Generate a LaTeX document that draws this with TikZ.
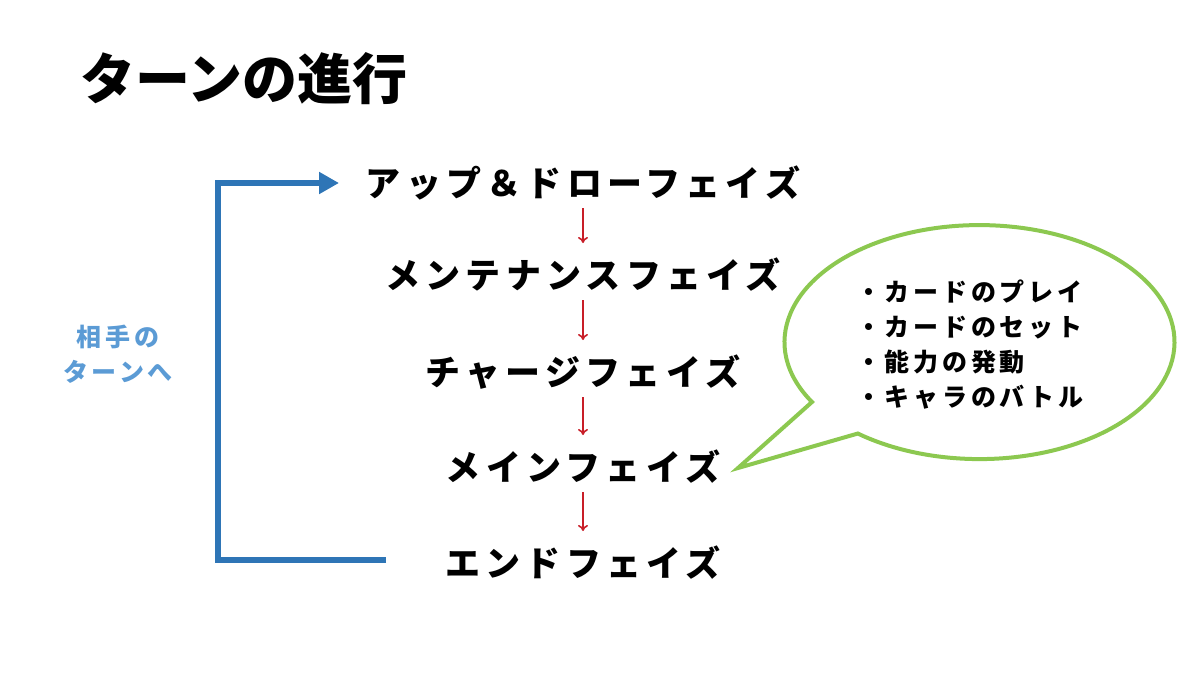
\documentclass[tikz,border=0pt]{standalone}
\usepackage{fontspec}
\usetikzlibrary{arrows.meta}
\newfontfamily\jp[LetterSpace=15]{Noto Sans CJK JP Black}
\newfontfamily\jptitle{Noto Sans CJK JP Black}
\definecolor{loopblue}{RGB}{46,117,182}
\definecolor{labelblue}{RGB}{91,155,213}
\definecolor{stepred}{RGB}{200,30,40}
\definecolor{bubblegreen}{RGB}{140,200,80}

\begin{document}
\begin{tikzpicture}[x=1pt,y=-1pt,
  phase/.style={inner sep=0pt,font=\jp\fontsize{35pt}{40pt}\selectfont},
  nextstep/.style={draw=stepred,line width=1.6pt,-{To[length=6pt,width=10pt]},
    shorten <=25pt,shorten >=32pt}]
\useasboundingbox (0,0) rectangle (1200,675);
\node[anchor=west,inner sep=0pt,font=\jptitle\fontsize{55pt}{60pt}\selectfont] (title) at (80,79) {ターンの進行};
\node[phase] (up) at (583,183) {アップ＆ドローフェイズ};
\node[phase] (maint) at (583,275) {メンテナンスフェイズ};
\node[phase] (charge) at (583,372) {チャージフェイズ};
\node[phase] (main) at (583,467) {メインフェイズ};
\node[phase] (end) at (583,563) {エンドフェイズ};
\draw[nextstep] (up.center) -- (maint.center);
\draw[nextstep] (maint.center) -- (charge.center);
\draw[nextstep] (charge.center) -- (main.center);
\draw[nextstep] (main.center) -- (end.center);
% back to the top
\coordinate (endleft) at (386,560);
\coordinate (upleft) at (339,183);
\draw[loopblue,line width=6pt,-{Triangle[length=20pt,width=21pt]}] (endleft) -| (218,183) -- (upleft);
\node[align=center,text=labelblue,inner sep=0pt,font=\jp\fontsize{25pt}{35pt}\selectfont] (other) at (118,354) {相手の\\ターンへ};
% speech bubble
\draw[bubblegreen,line width=4pt,fill=white,line join=miter] (812,402)
  arc[start angle=149.2,end angle=488.6,x radius=195,y radius=117] -- (738,468) -- cycle;
\node[anchor=west,align=left,inner sep=0pt,font=\jp\fontsize{25pt}{35pt}\selectfont] (acts) at (856,345)
  {・カードのプレイ\\・カードのセット\\・能力の発動\\・キャラのバトル};
\end{tikzpicture}
\end{document}
